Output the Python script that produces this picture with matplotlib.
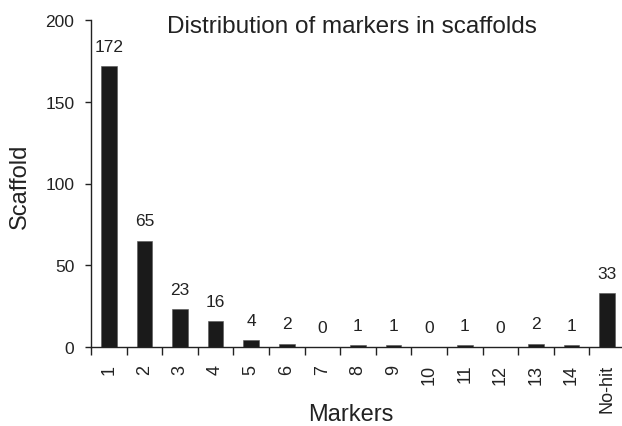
import matplotlib
matplotlib.use("Agg")
import matplotlib.pyplot as plt
import numpy as np

plt.rcParams['font.family'] = ['Liberation Sans', 'DejaVu Sans']

MARKERS = ["1", "2", "3", "4", "5", "6", "7", "8", "9", "10", "11", "12", "13", "14", "No-hit"]
SCAFFOLDS = [172, 65, 23, 16, 4, 2, 0, 1, 1, 0, 1, 0, 2, 1, 33]

W, H = 622, 427
TXT = '#222222'
fig = plt.figure(figsize=(W / 100, H / 100), dpi=100)
# axes box in pixels: left spine x=91, y=0 at 348, y=200 at 21, 35.6 px per category
AX_W, AX_H = 15 * 35.6, 327
ax = fig.add_axes([91 / W, (H - 348) / H, AX_W / W, AX_H / H])

x = np.arange(len(MARKERS))
ax.bar(x, SCAFFOLDS, width=0.44, color='#1a1a1a', edgecolor='#555555', linewidth=0.4)

for xi, v in zip(x, SCAFFOLDS):
    ax.annotate(str(v), (xi, v), xytext=(0, 11), textcoords='offset points',
                ha='center', va='baseline', fontsize=12.5, color=TXT)

ax.set_xlim(-0.5, len(MARKERS) - 0.5)
ax.set_ylim(0, 200)
ax.set_yticks([0, 50, 100, 150, 200])
ax.set_xticks(x)
ax.set_xticklabels(MARKERS, rotation=90, fontsize=13, color=TXT)
ax.set_xticks(np.arange(len(MARKERS) + 1) - 0.5, minor=True)
ax.tick_params(axis='x', which='major', length=0, pad=12)
ax.tick_params(axis='x', which='minor', length=6, width=1, direction='out', color=TXT)
ax.tick_params(axis='y', length=4, width=1, direction='out', color=TXT,
               labelsize=12.5, labelcolor=TXT, pad=8)

for s in ['top', 'right']:
    ax.spines[s].set_visible(False)
for s in ['left', 'bottom']:
    ax.spines[s].set_linewidth(1)
    ax.spines[s].set_color(TXT)

ax.set_ylabel('Scaffold', fontsize=17, color=TXT)
ax.yaxis.set_label_coords((31 - 91) / AX_W, (348 - 186) / AX_H)
ax.set_xlabel('Markers', fontsize=17, color=TXT)
ax.xaxis.set_label_coords((351 - 91) / AX_W, (348 - 404) / AX_H)
fig.text(352 / W, 1 - 33 / H, 'Distribution of markers in scaffolds', ha='center', va='baseline',
         fontsize=17.5, color=TXT)

fig.savefig('out.png', dpi=100)
